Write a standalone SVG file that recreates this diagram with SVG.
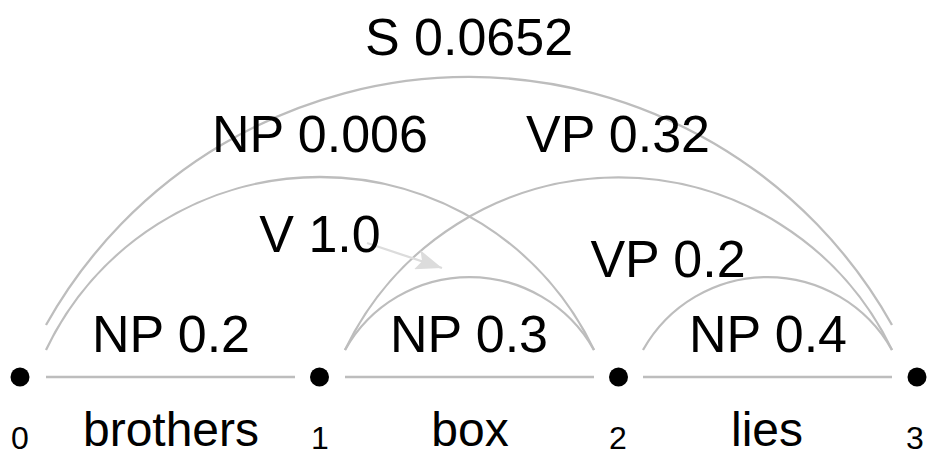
<svg xmlns="http://www.w3.org/2000/svg" width="928" height="457" viewBox="0 0 928 457">
<style>
text{font-family:"Liberation Sans",Arial,sans-serif;fill:#000;text-anchor:middle}
.lbl{font-size:52px}
.word{font-size:48px}
.idx{font-size:32px}
.edge{fill:none;stroke:#bdbdbd;stroke-width:2.3}
.arr{fill:none;stroke:#dcdcdc;stroke-width:2.3}
.dot{fill:#000}
</style>
<defs>
<marker id="ah" viewBox="0 0 26 20" refX="26" refY="10" markerWidth="26" markerHeight="20" markerUnits="userSpaceOnUse" orient="auto">
<path d="M0,0 L26,10 L0,20 L5,10 Z" fill="#dcdcdc"/>
</marker>
</defs>
<g id="connectors">
<line class="edge" x1="46" y1="377" x2="295" y2="377"/>
<line class="edge" x1="345" y1="377" x2="594" y2="377"/>
<line class="edge" x1="643" y1="377" x2="892" y2="377"/>
<path class="edge" d="M345,350 A142.7,142.7 0 0 1 594,350"/>
<path class="edge" d="M643,350 A142.7,142.7 0 0 1 892,350"/>
<path class="edge" d="M46,350 A303.5,303.5 0 0 1 594,350"/>
<path class="edge" d="M345,350 A303,303 0 0 1 892,350"/>
<path class="edge" d="M46,325 A484.7,484.7 0 0 1 892,325"/>
<line class="arr" x1="367" y1="243" x2="442" y2="268" marker-end="url(#ah)"/>
</g>
<g id="n0"><circle class="dot" cx="20" cy="377" r="9.5"/><text class="idx" x="20" y="449">0</text></g>
<g id="n1"><circle class="dot" cx="319.5" cy="377" r="9.5"/><text class="idx" x="320" y="449">1</text></g>
<g id="n2"><circle class="dot" cx="618.5" cy="377" r="9.5"/><text class="idx" x="618" y="449">2</text></g>
<g id="n3"><circle class="dot" cx="917" cy="377" r="9.5"/><text class="idx" x="915" y="449">3</text></g>
<g id="w-brothers"><text class="word" x="171" y="446">brothers</text></g>
<g id="w-box"><text class="word" x="470" y="446">box</text></g>
<g id="w-lies"><text class="word" x="767" y="446">lies</text></g>
<g id="e-np02"><text class="lbl" x="171" y="352">NP 0.2</text></g>
<g id="e-np03"><text class="lbl" x="469" y="352">NP 0.3</text></g>
<g id="e-np04"><text class="lbl" x="768" y="352">NP 0.4</text></g>
<g id="e-v10"><text class="lbl" x="320" y="252">V 1.0</text></g>
<g id="e-vp02"><text class="lbl" x="668" y="277">VP 0.2</text></g>
<g id="e-np0006"><text class="lbl" x="320" y="152">NP 0.006</text></g>
<g id="e-vp032"><text class="lbl" x="618" y="152">VP 0.32</text></g>
<g id="e-s"><text class="lbl" x="469" y="55">S 0.0652</text></g>
</svg>
